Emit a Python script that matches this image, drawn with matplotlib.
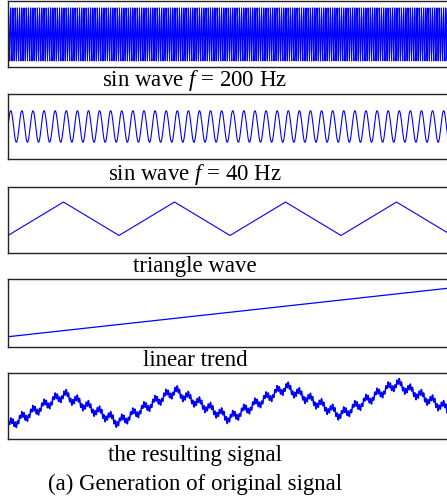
import numpy as np
import matplotlib
matplotlib.use('Agg')
import matplotlib.pyplot as plt

plt.rcParams['font.family'] = ['Liberation Serif', 'DejaVu Serif']
plt.rcParams['mathtext.fontset'] = 'custom'
plt.rcParams['mathtext.rm'] = 'Liberation Serif'
plt.rcParams['mathtext.it'] = 'Liberation Serif:italic'

# データ
fs = 1000                      # サンプリング周波数
t_end = 1.0                    # 観測時間 [s]
sin_freqs = [200, 40]          # 正弦波の周波数 [Hz]
sin_amps = [0.2, 0.25]         # 正弦波の振幅
tri_t = [0, 0.125, 0.25, 0.375, 0.5, 0.625, 0.75, 0.875, 1.0]   # 三角波の頂点
tri_v = [-1, 1, -1, 1, -1, 1, -1, 1, -1]
trend_t = [0, 1.0]             # 線形トレンドの端点
trend_v = [0, 1.0]

captions = ['sin wave $f$ = 200 Hz', 'sin wave $f$ = 40 Hz', 'triangle wave',
            'linear trend', 'the resulting signal']
title = '(a) Generation of original signal'

# 信号を作る
t = np.arange(0, t_end, 1 / fs)
s200 = sin_amps[0] * np.sin(2 * np.pi * sin_freqs[0] * t)
s40 = sin_amps[1] * np.sin(2 * np.pi * sin_freqs[1] * t)
tri = np.interp(t, tri_t, tri_v)
trend = np.interp(t, trend_t, trend_v)
result = s200 + s40 + tri + trend

W, H = 447, 504
fig = plt.figure(figsize=(W / 100, H / 100), dpi=100)

# 各パネルの位置（ピクセル: 上端, 下端）
boxes = [(1, 67), (94, 159), (187, 253), (279, 347), (373, 439)]
left, right = 8, 452
cap_base = [86, 180, 272, 366, 461]
cap_x = 195 / W

panels = [
    (t, s200, (-1.17 * sin_amps[0], 1.2 * sin_amps[0]), 0.8),
    (t, s40, (-2.06 * sin_amps[1], 2.06 * sin_amps[1]), 0.8),
    (tri_t, tri_v, (-2.05, 1.9), 0.8),
    (trend_t, trend_v, (-0.21, 1.18), 0.9),
    (t, result, (-1.9, 2.6), 1.1),
]

for (top, bot), (x, y, yl, lw), cap, cb in zip(boxes, panels, captions, cap_base):
    ax = fig.add_axes([left / W, 1 - bot / H, (right - left) / W, (bot - top) / H])
    ax.plot(x, y, color='#0000ff', lw=lw)
    ax.set_xlim(0, t_end)
    ax.set_ylim(*yl)
    ax.set_xticks([])
    ax.set_yticks([])
    for sp in ax.spines.values():
        sp.set_color('#222222')
        sp.set_linewidth(1.0)
    fig.text(cap_x, 1 - cb / H, cap, ha='center', va='baseline', fontsize=16.5)

fig.text(cap_x, 1 - 490 / H, title, ha='center', va='baseline', fontsize=16.5)

fig.savefig('out.png', dpi=100)
